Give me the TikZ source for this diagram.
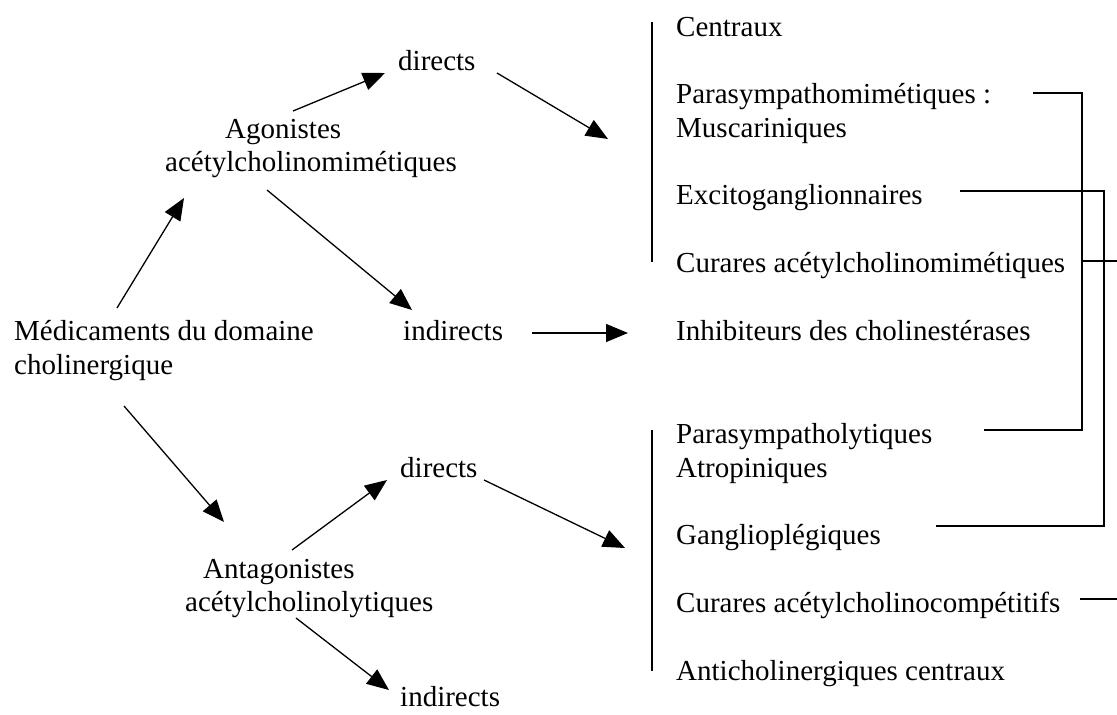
\documentclass[tikz,border=0pt]{standalone}
\usepackage{fontspec}
\setmainfont{Liberation Serif}
\usetikzlibrary{arrows.meta}
\begin{document}
\begin{tikzpicture}[x=1pt,y=-1pt,
  txt/.style={anchor=base west,inner sep=0pt,font=\fontsize{29}{34}\selectfont},
  arr/.style={line width=1.3pt,-{Triangle[length=22pt,width=18pt]}},
  ln/.style={line width=1.3pt}]
\useasboundingbox[fill=white] (0,0) rectangle (1117,715);

% right column
\node[txt] (cen) at (676,36) {Centraux};
\node[txt] (pm1) at (676,103) {Parasympathomimétiques :};
\node[txt] (pm2) at (676,137) {Muscariniques};
\node[txt] (exc) at (676,204) {Excitoganglionnaires};
\node[txt] (cam) at (676,272) {Curares acétylcholinomimétiques};
\node[txt] (inh) at (676,340) {Inhibiteurs des cholinestérases};
\node[txt] (pl1) at (676,443) {Parasympatholytiques};
\node[txt] (pl2) at (676,477) {Atropiniques};
\node[txt] (gan) at (676,544) {Ganglioplégiques};
\node[txt] (cac) at (676,612) {Curares acétylcholinocompétitifs};
\node[txt] (ant) at (676,680) {Anticholinergiques centraux};

% left part
\node[txt] (med1) at (14,340) {Médicaments du domaine};
\node[txt] (med2) at (14,374) {cholinergique};
\node[txt] (ag1) at (225,138) {Agonistes};
\node[txt] (ag2) at (165,171) {acétylcholinomimétiques};
\node[txt] (dir1) at (398,70) {directs};
\node[txt] (ind1) at (403,340) {indirects};
\node[txt] (dir2) at (400,477) {directs};
\node[txt] (an1) at (203,578) {Antagonistes};
\node[txt] (an2) at (185,611) {acétylcholinolytiques};
\node[txt] (ind2) at (400,706) {indirects};

% arrow end points
\coordinate (a1s) at (117,308); \coordinate (a1e) at (184,198);
\coordinate (a2s) at (293,111); \coordinate (a2e) at (385,73);
\coordinate (a3s) at (497,73);  \coordinate (a3e) at (608,139);
\coordinate (a4s) at (267,190); \coordinate (a4e) at (412,310);
\coordinate (a5s) at (532,333); \coordinate (a5e) at (628,333);
\coordinate (a6s) at (124,406); \coordinate (a6e) at (224,522);
\coordinate (a7s) at (292,550); \coordinate (a7e) at (387,480);
\coordinate (a8s) at (484,480); \coordinate (a8e) at (625,548);
\coordinate (a9s) at (296,618); \coordinate (a9e) at (389,690);

\draw[arr] (a1s) -- (a1e);
\draw[arr] (a2s) -- (a2e);
\draw[arr] (a3s) -- (a3e);
\draw[arr] (a4s) -- (a4e);
\draw[arr] (a5s) -- (a5e);
\draw[arr] (a6s) -- (a6e);
\draw[arr] (a7s) -- (a7e);
\draw[arr] (a8s) -- (a8e);
\draw[arr] (a9s) -- (a9e);

% vertical bars
\coordinate (v1t) at (652,22);  \coordinate (v1b) at (652,262);
\coordinate (v2t) at (652,430); \coordinate (v2b) at (652,671);
\draw[ln] (v1t) -- (v1b);
\draw[ln] (v2t) -- (v2b);

% brackets
\coordinate (b1s) at (1033,93);  \coordinate (b1e) at (984,430);
\coordinate (b2s) at (960,191);  \coordinate (b2e) at (936,526);
\draw[ln] (b1s) -- (1082,93) -- (1082,430) -- (b1e);
\draw[ln] (b2s) -- (1104,191) -- (1104,526) -- (b2e);
\coordinate (c3s) at (1082,261); \coordinate (c3e) at (1117,261);
\coordinate (c4s) at (1080,599); \coordinate (c4e) at (1117,599);
\draw[ln] (c3s) -- (c3e);
\draw[ln] (c4s) -- (c4e);
\end{tikzpicture}
\end{document}
